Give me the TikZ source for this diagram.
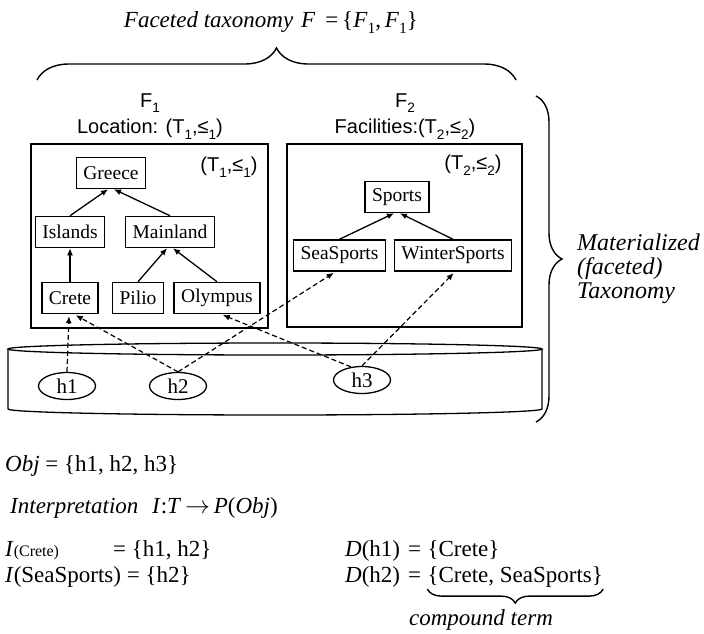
\documentclass[tikz,border=0pt]{standalone}
\usepackage{fontspec}
\setmainfont{Liberation Serif}
\newfontfamily\arialf{Liberation Sans}
\usetikzlibrary{arrows.meta,decorations.pathreplacing,shapes.geometric}

% font size in points with matching baseline
\newcommand{\fsz}[1]{\fontsize{#1}{#1}\selectfont}
% lowered, reduced index (T_1, <=_1 ...)
\newcommand{\lo}[1]{\raisebox{-0.28em}{\scalebox{0.68}{#1}}}

\begin{document}
\begin{tikzpicture}[x=1pt,y=-1pt,
  term/.style={draw, line width=1.5pt, font=\fsz{19.5}, minimum height=31pt,
               inner xsep=7pt, inner ysep=0pt},
  facetbox/.style={draw, line width=1.5pt, inner sep=0pt},
  objnode/.style={draw, ellipse, line width=1.3pt, font=\fsz{21},
                  minimum width=57pt, minimum height=27pt, inner sep=0pt},
  isa/.style={-{Latex[length=7pt,width=6pt]}, line width=1.3pt},
  classify/.style={-{Latex[length=7pt,width=6pt]}, line width=1.2pt,
                   dash pattern=on 5pt off 3pt, shorten >=2pt},
  sanslabel/.style={font=\arialf\fsz{20}, inner sep=0pt},
  bigtxt/.style={font=\fsz{23}, inner sep=0pt, anchor=base west},
  bracket/.style={decorate, line width=1.4pt},
]
\useasboundingbox (0,0) rectangle (704,633);

% ---- heading and the brace over both facets
\node[font=\fsz{23}, inner sep=0pt, anchor=base] (title) at (271,27)
  {\textit{Faceted taxonomy}\hspace{8pt}\textit{F}\hspace{10pt}=\,\{\textit{F}\lo{1},\,\textit{F}\lo{1}\}};
\coordinate (tbl) at (37,80);
\coordinate (tbr) at (516,80);
\draw[bracket, decoration={brace, amplitude=32pt}] (tbl) -- (tbr);

% ---- facet headings
\node[sanslabel] (f1) at (150,103) {F\lo{1}};
\node[sanslabel] (loc) at (150,129) {Location: (T\lo{1},≤\lo{1})};
\node[sanslabel] (f2) at (405,103) {F\lo{2}};
\node[sanslabel] (fac) at (405,129) {Facilities:(T\lo{2},≤\lo{2})};

% ---- facet frames
\node[facetbox, minimum width=237pt, minimum height=184pt] (facet1) at (149.5,236) {};
\node[facetbox, minimum width=235pt, minimum height=183pt] (facet2) at (404.5,235.5) {};
\node[sanslabel] (t1) at (229,167) {(T\lo{1},≤\lo{1})};
\node[sanslabel] (t2) at (473,165) {(T\lo{2},≤\lo{2})};

% ---- location taxonomy
\node[term] (greece)   at (111,173) {Greece};
\node[term] (islands)  at (70,232)  {Islands};
\node[term] (mainland) at (170,232) {Mainland};
\node[term] (crete)    at (70,298)  {Crete};
\node[term] (pilio)    at (138,298) {Pilio};
\node[term] (olympus)  at (217,298) {Olympus};

\draw[isa] (islands.north)  -- ([xshift=-3pt]greece.south);
\draw[isa] (mainland.north) -- ([xshift=3pt]greece.south);
\draw[isa] (crete.north)    -- (islands.south);
\draw[isa] (pilio.north)    -- ([xshift=-3pt]mainland.south);
\draw[isa] (olympus.north)  -- ([xshift=3pt]mainland.south);

% ---- facilities taxonomy
\node[term] (sports)    at (397,197)   {Sports};
\node[term] (seasports) at (339.5,255.5) {SeaSports};
\node[term] (winter)    at (453,255.5)  {WinterSports};

\draw[isa] (seasports.north) -- ([xshift=-3pt]sports.south);
\draw[isa] (winter.north)    -- ([xshift=3pt]sports.south);

% ---- object store (flat cylinder)
\draw[line width=1.3pt] (275,349) ellipse [x radius=267pt, y radius=6pt];
\draw[line width=1.3pt] (8,349) -- (8,409)
  arc[start angle=180, end angle=360, x radius=267pt, y radius=6pt] -- (542,349);

\node[objnode] (h1) at (67,386)  {h1};
\node[objnode] (h2) at (178,386) {h2};
\node[objnode] (h3) at (362,380) {h3};

% ---- classification of the objects
\draw[classify] (h1.north) -- ([xshift=-1pt]crete.south);
\draw[classify] (h2.north) -- ([xshift=4pt]crete.south);
\draw[classify] (h2.north) -- ([xshift=-4pt]seasports.south);
\draw[classify] (h3.130)   -- ([xshift=4pt]olympus.south);
\draw[classify] (h3.north) -- ([xshift=2pt]winter.south);

% ---- brace over the whole materialized taxonomy
\coordinate (rbt) at (536,96);
\coordinate (rbb) at (536,422);
\draw[bracket, decoration={brace, amplitude=26pt}] (rbt) -- (rbb);
\node[font=\fsz{24}\itshape, align=left, anchor=west, inner sep=0pt,
      text depth=0pt] (mat) at (577,266)
  {\baselineskip=25pt Materialized\\(faceted)\\Taxonomy};

% ---- definitions
\node[bigtxt] (obj) at (5,471) {\textit{Obj} = \{h1, h2, h3\}};
\node[bigtxt] (interp) at (10,513) {\textit{Interpretation}};
\node[bigtxt] (imap) at (152,513) {\textit{I}:\textit{T}\,$\rightarrow$\,\textit{P}(\textit{Obj})};

\node[bigtxt] (icrete) at (5,556) {\textit{I}{\fsz{16}(Crete)}};
\node[bigtxt] (icreteset) at (113,556) {= \{h1, h2\}};
\node[bigtxt] (isea) at (5,582) {\textit{I}(SeaSports) = \{h2\}};

\node[bigtxt] (dh1) at (345,556) {\textit{D}(h1)};
\node[bigtxt] (dh1eq) at (408,556) {=};
\node[bigtxt] (dh1set) at ([xshift=6pt]dh1eq.base east) {\{Crete\}};
\node[bigtxt] (dh2) at (345,582) {\textit{D}(h2)};
\node[bigtxt] (dh2eq) at (408,582) {=};
\node[bigtxt] (dh2set) at ([xshift=6pt]dh2eq.base east) {\{Crete, SeaSports\}};

\draw[bracket, decoration={brace, amplitude=14pt}]
  ([yshift=-2pt]dh2set.south east) -- ([yshift=-2pt]dh2set.south west);
\node[font=\fsz{23}\itshape, inner sep=0pt, anchor=base] (compound) at (481,625)
  {compound term};
\end{tikzpicture}
\end{document}
